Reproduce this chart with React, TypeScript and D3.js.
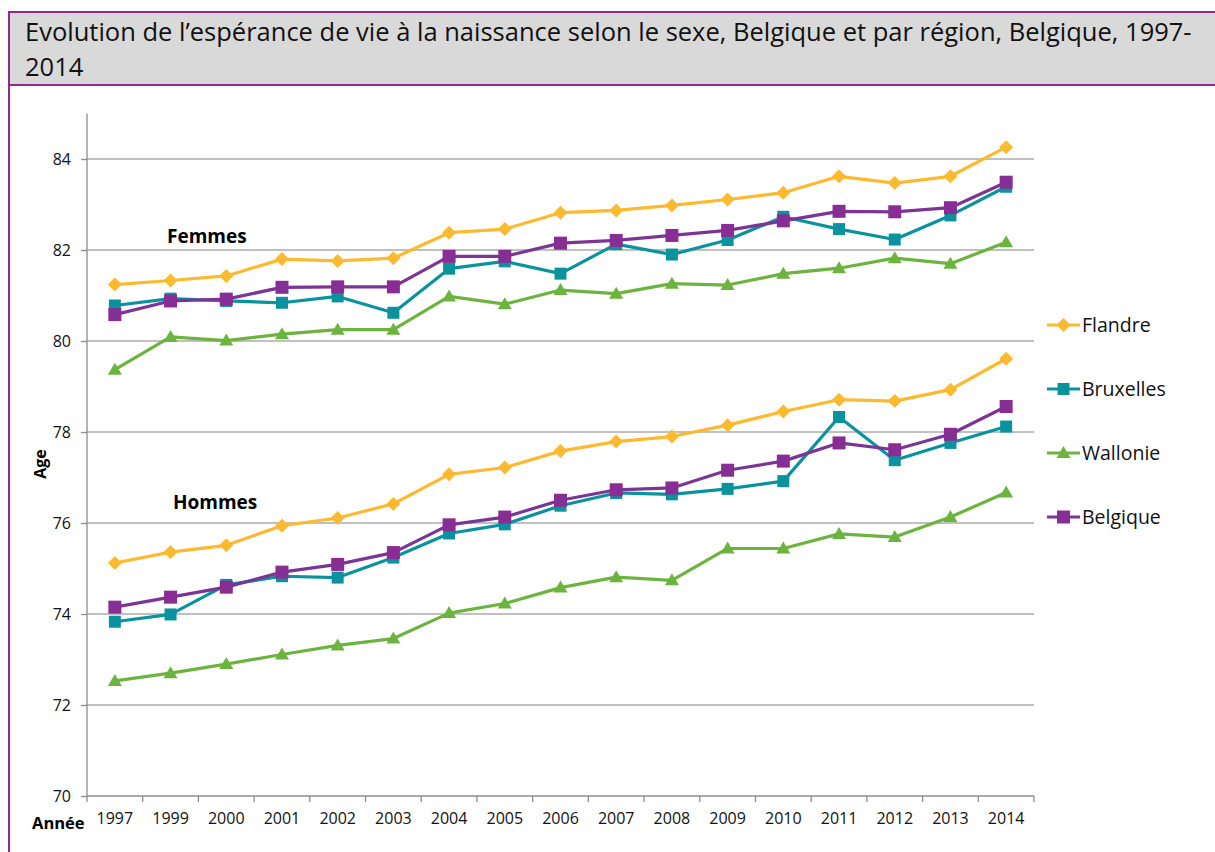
import React, { useEffect, useRef } from "react";
import * as d3 from "d3";

const years = ["1997", "1999", "2000", "2001", "2002", "2003", "2004", "2005", "2006", "2007", "2008", "2009", "2010", "2011", "2012", "2013", "2014"];
const yTicks = [70, 72, 74, 76, 78, 80, 82, 84];

// Femmes
const flandreF = [81.24, 81.33, 81.43, 81.8, 81.76, 81.82, 82.38, 82.46, 82.82, 82.87, 82.98, 83.11, 83.26, 83.62, 83.47, 83.62, 84.26];
const bruxellesF = [80.78, 80.93, 80.88, 80.84, 80.98, 80.62, 81.59, 81.75, 81.48, 82.13, 81.9, 82.22, 82.73, 82.46, 82.23, 82.76, 83.39];
const wallonieF = [79.37, 80.09, 80.01, 80.15, 80.25, 80.25, 80.98, 80.81, 81.12, 81.04, 81.26, 81.23, 81.48, 81.6, 81.82, 81.7, 82.17];
const belgiqueF = [80.58, 80.88, 80.92, 81.18, 81.19, 81.19, 81.86, 81.86, 82.15, 82.21, 82.32, 82.43, 82.64, 82.85, 82.84, 82.93, 83.49];

// Hommes
const flandreH = [75.12, 75.36, 75.51, 75.94, 76.11, 76.42, 77.07, 77.22, 77.58, 77.79, 77.9, 78.15, 78.45, 78.71, 78.68, 78.93, 79.61];
const bruxellesH = [73.83, 73.99, 74.64, 74.83, 74.8, 75.24, 75.77, 75.97, 76.38, 76.66, 76.63, 76.75, 76.92, 78.33, 77.38, 77.76, 78.12];
const wallonieH = [72.53, 72.7, 72.9, 73.11, 73.31, 73.46, 74.02, 74.23, 74.58, 74.81, 74.74, 75.44, 75.44, 75.76, 75.69, 76.13, 76.67];
const belgiqueH = [74.15, 74.37, 74.59, 74.92, 75.09, 75.35, 75.96, 76.13, 76.5, 76.73, 76.77, 77.16, 77.36, 77.76, 77.61, 77.95, 78.56];

const regions = ["Flandre", "Bruxelles", "Wallonie", "Belgique"];

interface Series {
  name: string;
  color: string;
  marker: "diamond" | "square" | "triangle" | "xsquare";
  values: number[];
}

const seriesList: Series[] = [
  { name: "Flandre", color: "#fdb92f", marker: "diamond", values: flandreF },
  { name: "Flandre", color: "#fdb92f", marker: "diamond", values: flandreH },
  { name: "Wallonie", color: "#6cb33f", marker: "triangle", values: wallonieF },
  { name: "Wallonie", color: "#6cb33f", marker: "triangle", values: wallonieH },
  { name: "Bruxelles", color: "#0a939e", marker: "square", values: bruxellesF },
  { name: "Bruxelles", color: "#0a939e", marker: "square", values: bruxellesH },
  { name: "Belgique", color: "#7b3595", marker: "xsquare", values: belgiqueF },
  { name: "Belgique", color: "#7b3595", marker: "xsquare", values: belgiqueH },
];

const styleOf: Record<string, { color: string; marker: Series["marker"] }> = {
  Flandre: { color: "#fdb92f", marker: "diamond" },
  Bruxelles: { color: "#0a939e", marker: "square" },
  Wallonie: { color: "#6cb33f", marker: "triangle" },
  Belgique: { color: "#7b3595", marker: "xsquare" },
};

const FONT = "'Open Sans', 'Liberation Sans', sans-serif";

function drawMarker(g: d3.Selection<SVGGElement, unknown, null, undefined>, kind: Series["marker"], x: number, y: number, color: string) {
  if (kind === "diamond") {
    g.append("path")
      .attr("d", `M${x},${y - 7}L${x + 7},${y}L${x},${y + 7}L${x - 7},${y}Z`)
      .attr("fill", color);
  } else if (kind === "square") {
    g.append("rect").attr("x", x - 6).attr("y", y - 6).attr("width", 12).attr("height", 12).attr("fill", color);
  } else if (kind === "triangle") {
    g.append("path")
      .attr("d", `M${x},${y - 7}L${x + 7},${y + 5}L${x - 7},${y + 5}Z`)
      .attr("fill", color);
  } else {
    g.append("rect").attr("x", x - 6.5).attr("y", y - 6.5).attr("width", 13).attr("height", 13).attr("fill", "#8b2c92");
    g.append("path")
      .attr("d", `M${x - 5},${y - 5}L${x + 5},${y + 5}M${x + 5},${y - 5}L${x - 5},${y + 5}`)
      .attr("stroke", "#6e3aa0")
      .attr("stroke-width", 1);
  }
}

const App: React.FC = () => {
  const svgRef = useRef<SVGSVGElement | null>(null);

  useEffect(() => {
    if (!svgRef.current) return;
    document.body.style.margin = "0";
    const svg = d3.select(svgRef.current);
    svg.selectAll("*").remove();

    const width = 1215;
    const height = 852;
    svg.attr("width", width).attr("height", height);

    // Frame and title box
    svg.append("rect").attr("x", 0).attr("y", 0).attr("width", width).attr("height", height).attr("fill", "#fff");
    svg.append("rect").attr("x", 9).attr("y", 12).attr("width", width).attr("height", 73).attr("fill", "#d9d9d9");
    svg.append("line").attr("x1", 8).attr("x2", width).attr("y1", 12).attr("y2", 12).attr("stroke", "#92278f").attr("stroke-width", 2);
    svg.append("line").attr("x1", 8).attr("x2", width).attr("y1", 85).attr("y2", 85).attr("stroke", "#92278f").attr("stroke-width", 2);
    svg.append("line").attr("x1", 9).attr("x2", 9).attr("y1", 11).attr("y2", height).attr("stroke", "#92278f").attr("stroke-width", 2);

    const title = svg.append("text").attr("font-family", FONT).attr("font-size", 25.5).attr("fill", "#111");
    title.append("tspan").attr("x", 25).attr("y", 41).text("Evolution de l\u2019espérance de vie à la naissance selon le sexe, Belgique et par région, Belgique, 1997-");
    title.append("tspan").attr("x", 25).attr("y", 76).text("2014");

    // Scales
    const x = d3.scaleBand<string>().domain(years).range([87, 1034]);
    const y = d3.scaleLinear().domain([70, 85]).range([796, 113.5]);
    const cx = (d: string) => (x(d) || 0) + x.bandwidth() / 2;

    // Gridlines
    svg.append("g")
      .selectAll("line")
      .data(yTicks.filter((t) => t > 70))
      .join("line")
      .attr("x1", 87)
      .attr("x2", 1034)
      .attr("y1", (d) => y(d))
      .attr("y2", (d) => y(d))
      .attr("stroke", "#ababab")
      .attr("stroke-width", 1.3);

    // Y axis
    const yAxis = d3.axisLeft(y).tickValues(yTicks).tickSize(6).tickFormat(d3.format("d"));
    const gy = svg.append("g").attr("transform", "translate(87,0)").call(yAxis);
    gy.select(".domain").attr("stroke", "#8c8c8c").attr("stroke-width", 1.3).attr("d", `M0,${y(70)}V${y(85)}`);
    gy.selectAll(".tick line").attr("stroke", "#8c8c8c").attr("stroke-width", 1.3);
    gy.selectAll(".tick text").attr("font-family", FONT).attr("font-size", 16).attr("fill", "#111").attr("x", -16);

    // X axis
    const xAxis = d3.axisBottom(x).tickSize(0);
    const gx = svg.append("g").attr("transform", `translate(0,${y(70)})`).call(xAxis);
    gx.select(".domain").attr("stroke", "#8c8c8c").attr("stroke-width", 1.3).attr("d", `M87,0H1034`);
    gx.selectAll(".tick text").attr("font-family", FONT).attr("font-size", 16).attr("fill", "#111").attr("y", 17);
    svg.append("g")
      .selectAll("line")
      .data(years.concat(["end"]))
      .join("line")
      .attr("x1", (d, i) => 87 + i * x.step())
      .attr("x2", (d, i) => 87 + i * x.step())
      .attr("y1", y(70))
      .attr("y2", y(70) + 6)
      .attr("stroke", "#8c8c8c")
      .attr("stroke-width", 1.3);

    // Axis titles
    svg.append("text")
      .attr("transform", `translate(46,464) rotate(-90)`)
      .attr("text-anchor", "middle")
      .attr("font-family", FONT)
      .attr("font-weight", "bold")
      .attr("font-size", 16)
      .text("Age");
    svg.append("text")
      .attr("x", 32)
      .attr("y", 829)
      .attr("font-family", FONT)
      .attr("font-weight", "bold")
      .attr("font-size", 16.5)
      .text("Année");

    // Series
    const line = d3
      .line<number>()
      .x((d, i) => cx(years[i]))
      .y((d) => y(d));

    seriesList.forEach((s) => {
      const g = svg.append("g");
      g.append("path")
        .attr("d", line(s.values) || "")
        .attr("fill", "none")
        .attr("stroke", s.color)
        .attr("stroke-width", 3.2)
        .attr("stroke-linejoin", "round");
      s.values.forEach((v, i) => drawMarker(g, s.marker, cx(years[i]), y(v), s.color));
    });

    // Group labels
    svg.append("text").attr("x", 167).attr("y", 243).attr("font-family", FONT).attr("font-weight", "bold").attr("font-size", 19).text("Femmes");
    svg.append("text").attr("x", 173).attr("y", 509).attr("font-family", FONT).attr("font-weight", "bold").attr("font-size", 19).text("Hommes");

    // Legend
    const legend = svg.append("g");
    regions.forEach((name, i) => {
      const ly = 325 + i * 64;
      const st = styleOf[name];
      const g = legend.append("g");
      g.append("line").attr("x1", 1047).attr("x2", 1080).attr("y1", ly).attr("y2", ly).attr("stroke", st.color).attr("stroke-width", 3.2);
      drawMarker(g, st.marker, 1063.5, ly, st.color);
      g.append("text").attr("x", 1082).attr("y", ly + 7).attr("font-family", FONT).attr("font-size", 19.5).attr("fill", "#111").text(name);
    });
  }, []);

  return <svg ref={svgRef} style={{ display: "block" }}></svg>;
};

export default App;
